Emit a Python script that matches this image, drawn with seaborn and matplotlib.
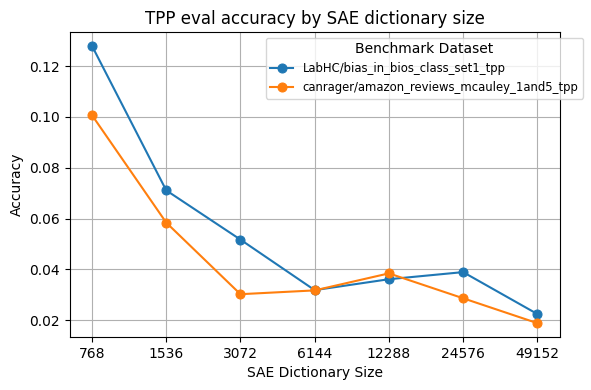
import pandas as pd
import seaborn as sns
import matplotlib.pyplot as plt

# Values
dict_sizes = [768, 1536, 3072, 6144, 12288, 24576, 49152]
bios_acc = [0.1280, 0.0711, 0.0517, 0.0318, 0.0361, 0.0389, 0.0224]
amazon_acc = [0.1007, 0.0584, 0.0302, 0.0317, 0.0384, 0.0286, 0.0188]
datasets = ["LabHC/bias_in_bios_class_set1_tpp",
            "canrager/amazon_reviews_mcauley_1and5_tpp"]

df = pd.DataFrame({
    "SAE Dictionary Size": dict_sizes * 2,
    "Accuracy": bios_acc + amazon_acc,
    "Benchmark Dataset": [datasets[0]] * len(dict_sizes) + [datasets[1]] * len(dict_sizes),
})

fig, ax = plt.subplots(figsize=(5.91, 3.9), dpi=100)
sns.lineplot(data=df, x="SAE Dictionary Size", y="Accuracy",
             hue="Benchmark Dataset", marker="o", markeredgecolor=None,
             markersize=6.5, linewidth=1.5, ax=ax)
ax.set_xscale("log", base=2)
ax.set_xticks(dict_sizes)
ax.set_xticklabels([str(s) for s in dict_sizes])
ax.minorticks_off()
ax.grid(True)
ax.set_title("TPP eval accuracy by SAE dictionary size")
ax.legend(title="Benchmark Dataset", fontsize="small", loc="upper right",
          bbox_to_anchor=(1.06, 1))
plt.tight_layout(pad=0.7)

plt.savefig("out.png")
